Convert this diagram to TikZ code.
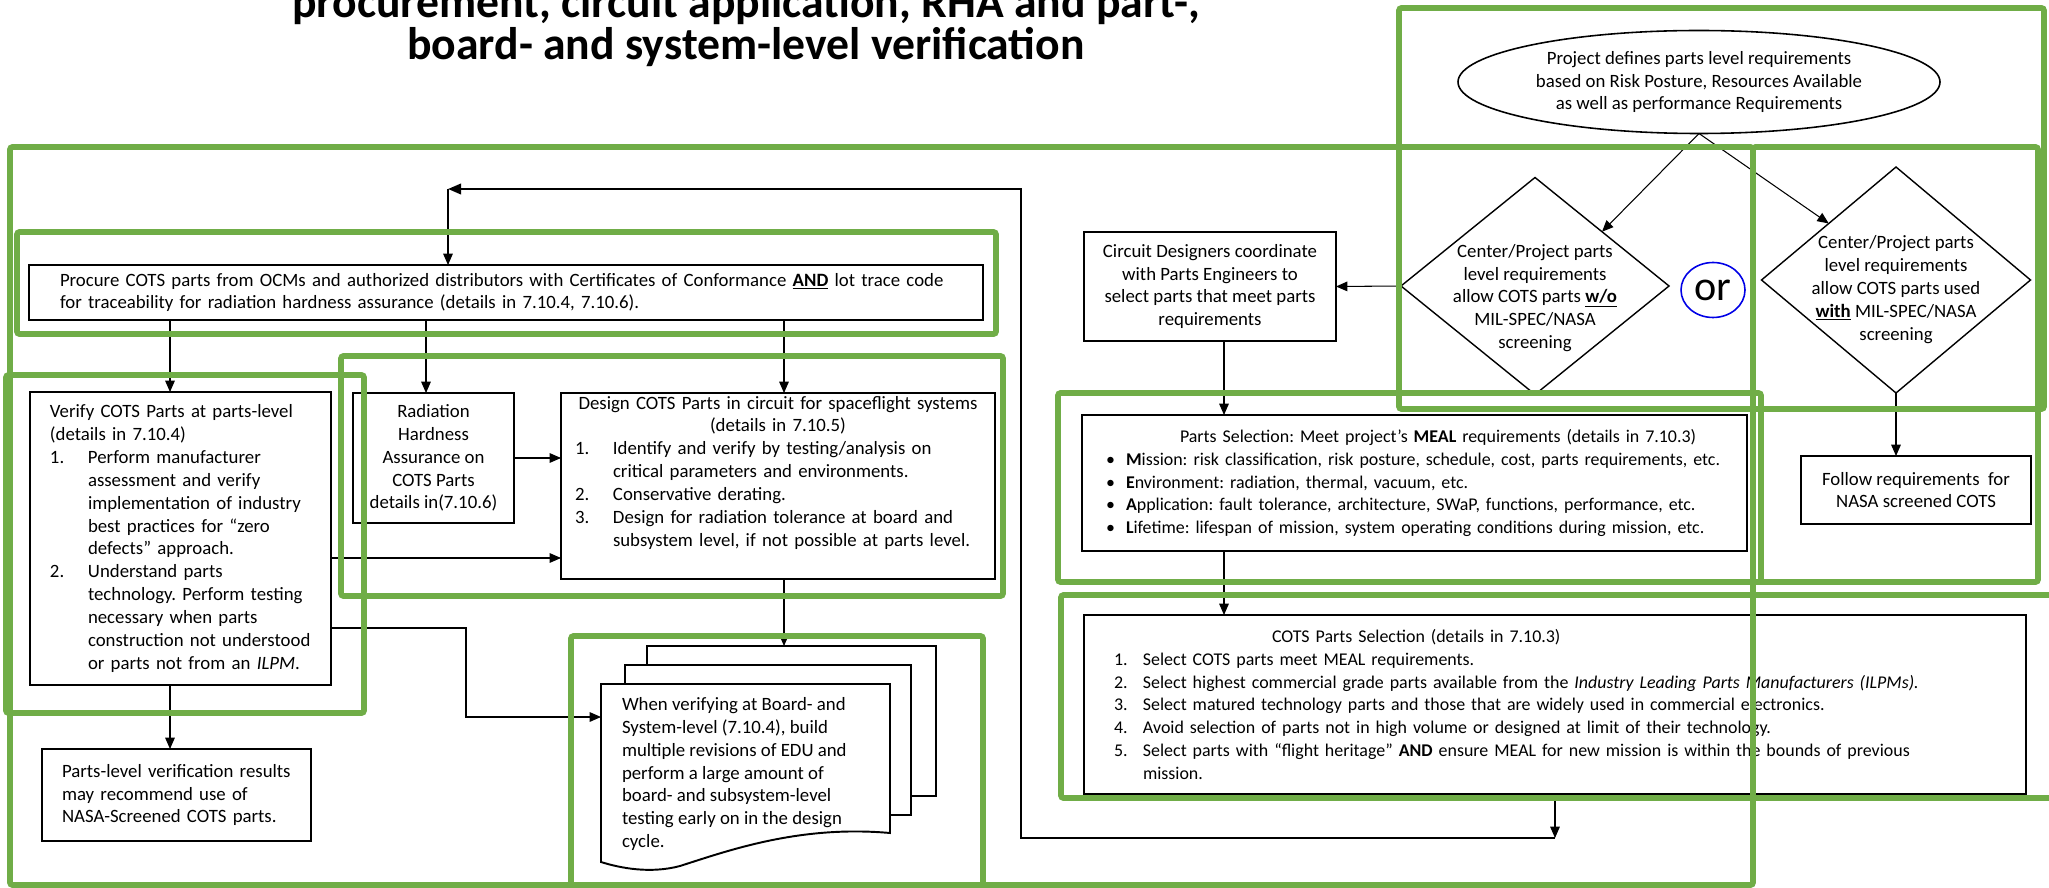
\documentclass[tikz,border=0pt]{standalone}
\usepackage{fontspec}
\setmainfont{Carlito}
\usepackage{tikz}
\usetikzlibrary{calc, arrows.meta, positioning, shapes.geometric}
\definecolor{FrameGreen}{RGB}{112,173,71}
\definecolor{OrBlue}{RGB}{0,0,230}
\newdimen\px \px=0.02cm
\newcommand{\itemno}[2][38]{\makebox[#1\px][l]{#2}}
\newcommand{\indnt}[1][38]{\hspace*{#1\px}}
\newcommand{\bul}{\hspace*{16\px}\makebox[20\px][l]{\textbullet}}
\frenchspacing
\tikzstyle{arrow} = [-{Triangle[length=6.5pt, width=5.5pt]}, draw=black, line width=0.6pt]
\tikzstyle{fbarrow} = [-{Triangle[length=7.5pt, width=6pt]}, draw=black, line width=1.4pt]
\tikzstyle{box} = [rectangle, draw=black, line width=1.1pt, inner sep=0pt]
\tikzstyle{cbox} = [box, align=center]
\tikzstyle{lbox} = [box, align=left]
\tikzstyle{sheet} = [box, fill=white]
\tikzstyle{decision} = [diamond, draw=black, line width=0.8pt, inner sep=0pt]
\tikzstyle{frame} = [draw=FrameGreen, line width=3.3pt, rounded corners=1.5pt]

\begin{document}
\begin{tikzpicture}[x=0.02cm, y=-0.02cm, font=\fontsize{10.7}{13}\selectfont, inner sep=0pt, outer sep=0pt]
	\useasboundingbox (0,0) rectangle (2049,888);
	% TITLE
	\node (title) [align=center, font=\fontsize{26}{24}\selectfont\bfseries] at (746,26) {procurement, circuit application, RHA and part-,\\board- and system-level verification};

	% REQUIREMENTS
	\node (proj) [ellipse, draw=black, line width=0.9pt, minimum width=482\px, minimum height=103\px, align=center] at (1699,82) {Project defines parts level requirements\\based on Risk Posture, Resources Available\\as well as performance Requirements};
	\node (ldia) [decision, minimum width=268\px, minimum height=217\px] at (1535,286) {};
	\node (ltext) [align=center] at (1535,298) {Center/Project parts\\level requirements\\allow COTS parts \underline{\textbf{w/o}}\\MIL-SPEC/NASA\\screening};
	\node (rdia) [decision, minimum width=269\px, minimum height=226\px] at (1896,280) {};
	\node (rtext) [align=center] at (1896,289.5) {Center/Project parts\\level requirements\\allow COTS parts used\\\underline{\textbf{with}} MIL-SPEC/NASA\\screening};
	\node (orsep) [ellipse, draw=OrBlue, line width=0.9pt, minimum width=64\px, minimum height=55\px, font=\fontsize{24}{24}\selectfont] at (1713,290) {or};
	\node (circ) [cbox, minimum width=252\px, minimum height=109\px] at (1210,286.5) {Circuit Designers coordinate\\with Parts Engineers to\\select parts that meet parts\\requirements};
	\node (follow) [cbox, minimum width=230\px, minimum height=68\px] at (1916,490) {Follow requirements\ \ for\\NASA screened COTS};
	\node (psel) [lbox, text width=649\px, inner xsep=8\px, minimum height=136\px, font=\fontsize{10.2}{13}\selectfont] at (1414.5,483) {\indnt[90]Parts Selection: Meet project’s \textbf{MEAL} requirements (details in 7.10.3)\\
		\bul\textbf{M}ission: risk classification, risk posture, schedule, cost, parts requirements, etc.\\
		\bul\textbf{E}nvironment: radiation, thermal, vacuum, etc.\\
		\bul\textbf{A}pplication: fault tolerance, architecture, SWaP, functions, performance, etc.\\
		\bul\textbf{L}ifetime: lifespan of mission, system operating conditions during mission, etc.};
	\node (csel) [lbox, text width=882\px, inner xsep=30\px, minimum height=179\px, font=\fontsize{10.2}{13}\selectfont] at (1555,704.5) {\indnt[158]COTS Parts Selection (details in 7.10.3)\\
		\itemno[29]{1.}Select COTS parts meet MEAL requirements.\\
		\itemno[29]{2.}Select highest commercial grade parts available from the \textit{Industry Leading Parts Manufacturers (ILPMs).}\\
		\itemno[29]{3.}Select matured technology parts and those that are widely used in commercial electronics.\\
		\itemno[29]{4.}Avoid selection of parts not in high volume or designed at limit of their technology.\\
		\itemno[29]{5.}Select parts with “flight heritage” \textbf{AND} ensure MEAL for new mission is within the bounds of previous\\
		\indnt[29]mission.};

	% LEFT SIDE
	\node (procure) [lbox, text width=892\px, inner xsep=31\px, minimum height=55\px] at (506,292.5) {Procure COTS parts from OCMs and authorized distributors with Certificates of Conformance \underline{\textbf{AND}} lot trace code\\for traceability for radiation hardness assurance (details in 7.10.4, 7.10.6).};
	\node (verify) [lbox, text width=261\px, inner xsep=20\px, minimum height=293\px] at (180.5,538.5) {Verify COTS Parts at parts-level\\(details in 7.10.4)\\
		\itemno{1.}Perform manufacturer\\ \indnt assessment and verify\\ \indnt implementation of industry\\ \indnt best practices for “zero\\ \indnt defects” approach.\\
		\itemno{2.}Understand parts\\ \indnt technology. Perform testing\\ \indnt necessary when parts\\ \indnt construction not understood\\ \indnt or parts not from an \textit{ILPM}.};
	\node (rha) [cbox, minimum width=161\px, minimum height=130\px] at (433.5,458) {Radiation\\Hardness\\Assurance on\\COTS Parts\\details in(7.10.6)};
	\node (design) [lbox, text width=406\px, inner xsep=14\px, minimum height=186\px] at (778,486) {\makebox[406\px][c]{Design COTS Parts in circuit for spaceflight systems}\\\makebox[406\px][c]{(details in 7.10.5)}\\
		\itemno{1.}Identify and verify by testing/analysis on\\ \indnt critical parameters and environments.\\
		\itemno{2.}Conservative derating.\\
		\itemno{3.}Design for radiation tolerance at board and\\ \indnt subsystem level, if not possible at parts level.\\ \strut};
	\node (plev) [lbox, text width=229\px, inner xsep=20\px, minimum height=92\px] at (176.5,795) {Parts-level verification results\\may recommend use of\\NASA-Screened COTS parts.};

	% stacked documents
	\node (sheetc) [sheet, minimum width=289\px, minimum height=150\px] at (791.5,721) {};
	\node (sheetb) [sheet, minimum width=286\px, minimum height=150\px] at (768,740) {};
	\draw [line width=1.1pt, fill=white] (601,684) -- (890,684) -- (890,833) .. controls (800,825) and (730,850) .. (680,866) .. controls (650,874) and (620,868) .. (601,862) -- cycle;
	\node (doc) [align=left, anchor=west] at (622,774) {When verifying at Board- and\\System-level (7.10.4), build\\multiple revisions of EDU and\\perform a large amount of\\board- and subsystem-level\\testing early on in the design\\cycle.};

	\coordinate (vin) at ($(verify.north west)+(140,0)$);
	\coordinate (rin) at ($(rha.north west)+(73,0)$);
	\coordinate (din) at ($(design.north west)+(223,0)$);
	\coordinate (ptop) at ($(procure.north west)+(419,0)$);
	\coordinate (pin) at ($(psel.north west)+(142,0)$);
	\coordinate (desin) at ($(design.south west)+(0,-21)$);
	\coordinate (docin) at (601,717);
	\coordinate (dsin) at ($(sheetc.north west)+(137,0)$);
	\coordinate (fb) at ($(csel.south)+(0,44)$);
	\coordinate (fbturn) at (1021,189);

	\draw [arrow] (procure.south -| vin) -- (vin);
	\draw [arrow] (procure.south -| rin) -- (rin);
	\draw [arrow] (procure.south -| din) -- (din);
	\draw [arrow] (rha.east) -- (rha.east -| design.west);
	\draw [arrow] (verify.east |- desin) -- (desin);
	\draw [arrow] (verify.south -| vin) -- (plev.north -| vin);
	\draw [arrow] ($(verify.south east)+(0,-57)$) -- ++(135,0) |- (docin);
	\draw [arrow] (design.south -| dsin) -- (dsin);

	\draw [arrow] (proj.south) -- (ldia.north east);
	\draw [arrow] (proj.south) -- (rdia.north west);
	\draw [arrow] (ldia.west) -- (circ.east);
	\draw [arrow] (circ.south -| pin) -- (pin);
	\draw [arrow] (psel.south -| pin) -- (pin |- csel.north);
	\draw [arrow] (rdia.south) -- (rdia.south |- follow.north);
	\draw [arrow] (csel.south) -- (fb);
	\draw [fbarrow] (fb) -| (fbturn) -- (fbturn -| ptop);
	\draw [arrow] (fbturn -| ptop) -- (ptop);

	% green frames
	\draw [frame] (10,147) rectangle (1753,885);
	\draw [frame] (1753,147) rectangle (2038,582);
	\draw [frame] (1399,8) rectangle (2044,409);
	\draw [frame] (17,232) rectangle (996,334);
	\draw [frame] (6,375) rectangle (364,713);
	\draw [frame] (341,356) rectangle (1003,596);
	\draw [frame] (571,636) rectangle (983,900);
	\draw [frame] (1058,393) rectangle (1761,582);
	\draw [frame] (1061,595) rectangle (2070,798);
\end{tikzpicture}
\end{document}
